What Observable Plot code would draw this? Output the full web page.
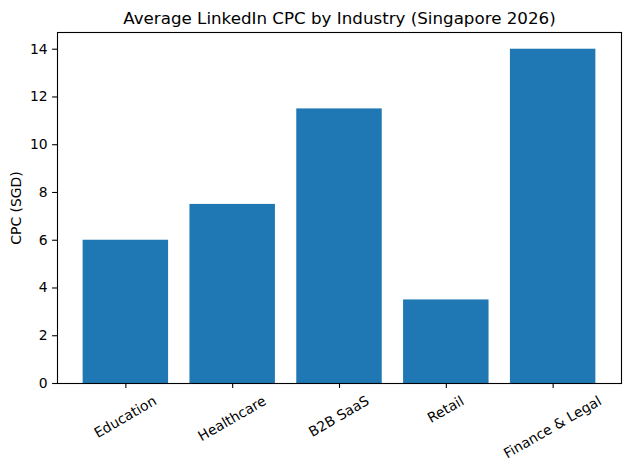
<!DOCTYPE html>
<html>
<head>
<meta charset="utf-8">
<script src="https://cdn.jsdelivr.net/npm/d3@7"></script>
<script src="https://cdn.jsdelivr.net/npm/@observablehq/plot@0.6"></script>
<style>
  html, body { margin: 0; padding: 0; background: #fff; }
  svg { font-family: "DejaVu Sans", sans-serif; }
</style>
</head>
<body>
<div id="chart"></div>
<script>
const categories = ["Education", "Healthcare", "B2B SaaS", "Retail", "Finance & Legal"];
const values = [6.0, 7.5, 11.5, 3.5, 14.0];
const yTicks = [0, 2, 4, 6, 8, 10, 12, 14];
const title = "Average LinkedIn CPC by Industry (Singapore 2026)";
const yLabel = "CPC (SGD)";

const data = categories.map((c, i) => ({category: c, value: values[i]}));

const W = 630, H = 470;
const mL = 57, mR = 9, mT = 32, mB = 87;

const plot = Plot.plot({
  width: W,
  height: H,
  marginLeft: mL,
  marginRight: mR,
  marginTop: mT,
  marginBottom: mB,
  style: {fontFamily: "DejaVu Sans, sans-serif", fontSize: "13.9px", color: "#000", background: "#fff"},
  x: {domain: categories, paddingInner: 0.2, paddingOuter: 0.24, align: 0.5, round: false},
  y: {domain: [0, 14.7]},
  marks: [
    Plot.barY(data, {x: "category", y: "value", fill: "#1f77b4"}),
    Plot.frame({stroke: "#000", strokeWidth: 1.1}),
    Plot.axisY({ticks: yTicks, tickSize: 4.9, tickPadding: 4.9, label: null, stroke: "#000", strokeWidth: 1.1, fontSize: 13.9, fill: "#000"}),
    Plot.axisX({tickSize: 4.9, label: null, text: null, stroke: "#000", strokeWidth: 1.1}),
    Plot.text(data, {x: "category", text: "category", frameAnchor: "bottom", textAnchor: "middle", lineAnchor: "middle", rotate: -30, fontSize: 13.9, fill: "#000", className: "xlab"}),
    Plot.text([yLabel], {frameAnchor: "left", dx: -41, rotate: -90, textAnchor: "middle", lineAnchor: "middle", fontSize: 13.9, fill: "#000"}),
    Plot.text([title], {frameAnchor: "top", dy: -8.3, lineAnchor: "bottom", textAnchor: "middle", fontSize: 16.7, fill: "#000"})
  ]
});

document.getElementById("chart").appendChild(plot);

// matplotlib-style centering of rotated tick labels: rotated bbox centred on tick, top at pad below tick
const xs = plot.scale("x");
const bottom = H - mB;
d3.select(plot).selectAll("g.xlab").attr("transform", null);
d3.select(plot).selectAll("g.xlab text").each(function(d, i) {
  const L = this.getComputedTextLength();
  const h = 13.9 * 1.17;
  const Hb = L * Math.sin(Math.PI / 6) + h * Math.cos(Math.PI / 6);
  const cat = categories[i];
  const cx = xs.apply(cat) + xs.bandwidth / 2;
  const cy = bottom + 4.9 + 4.9 + Hb / 2;
  this.setAttribute("transform", `translate(${cx},${cy}) rotate(-30)`);
});
</script>
</body>
</html>
